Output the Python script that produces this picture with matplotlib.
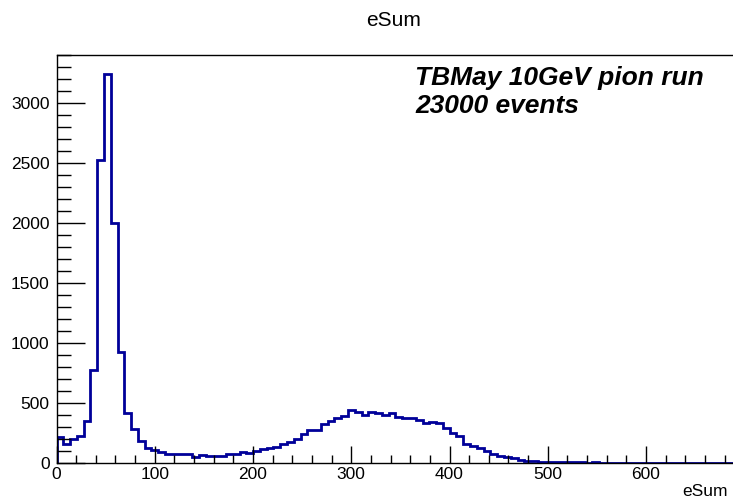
import matplotlib
matplotlib.use("Agg")
import matplotlib.pyplot as plt
import numpy as np
from matplotlib.ticker import MultipleLocator

plt.rcParams['font.family'] = ['Liberation Sans', 'DejaVu Sans']

x_min, x_max, n_bins = 0.0, 690.0, 100
counts = [214, 153, 195, 220, 350, 772, 2525, 3244, 2000, 920,
          417, 278, 183, 120, 106, 92, 70, 70, 70, 75,
          50, 66, 58, 58, 60, 69, 75, 89, 80, 100,
          111, 119, 133, 155, 172, 197, 239, 275, 275, 322,
          347, 372, 386, 436, 425, 397, 422, 417, 397, 417,
          378, 375, 369, 356, 328, 342, 328, 286, 250, 222,
          158, 143, 119, 95, 69, 56, 44, 36, 25, 17,
          11, 8, 6, 4, 3, 3, 2, 2, 1, 2,
          1, 1, 1, 0, 1, 0, 0, 1, 0, 0,
          0, 1, 0, 0, 0, 0, 0, 0, 0, 0]
title = "eSum"
xlabel = "eSum"
annot_lines = ["TBMay 10GeV pion run", "23000 events"]

W, H = 733, 501
fig = plt.figure(figsize=(W / 100, H / 100), dpi=100)
ax = fig.add_axes([56.5 / W, 1 - 462.7 / H, (W - 56.5) / W + 0.002, (462.7 - 54.5) / H])

edges = np.linspace(x_min, x_max, n_bins + 1)
ax.stairs(counts, edges, baseline=0, color='#000099', lw=2.0)

ax.set_xlim(x_min, x_max)
ax.set_ylim(0, max(counts) * 1.05)

ax.xaxis.set_major_locator(MultipleLocator(100))
ax.xaxis.set_minor_locator(MultipleLocator(20))
ax.yaxis.set_major_locator(MultipleLocator(500))
ax.yaxis.set_minor_locator(MultipleLocator(100))
ax.tick_params(axis='x', which='major', direction='in', length=12, width=1, labelsize=12.5, pad=3)
ax.tick_params(axis='x', which='minor', direction='in', length=6, width=1)
ax.tick_params(axis='y', which='major', direction='in', length=20, width=1, labelsize=12.5, pad=5)
ax.tick_params(axis='y', which='minor', direction='in', length=10, width=1)

ax.spines['right'].set_visible(False)
for s in ['left', 'bottom', 'top']:
    ax.spines[s].set_linewidth(1.0)

fig.text(394 / W, 1 - 21 / H, title, ha='center', va='center', fontsize=15)
fig.text(728 / W, 1 - 492 / H, xlabel, ha='right', va='center', fontsize=12.5)
fig.text(415 / W, 1 - 66 / H, "\n".join(annot_lines), ha='left', va='top',
         fontsize=19, fontweight='bold', fontstyle='italic', linespacing=1.2)

fig.savefig("out.png", dpi=100)
